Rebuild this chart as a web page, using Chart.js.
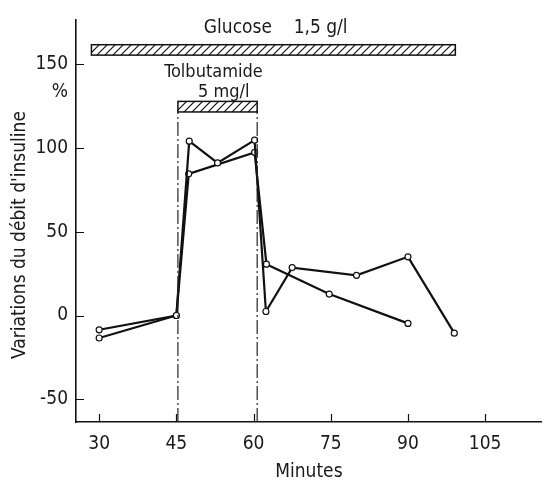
<!DOCTYPE html>
<html><head><meta charset="utf-8">
<script src="https://cdn.jsdelivr.net/npm/chart.js@4/dist/chart.umd.min.js"></script>
<style>html,body{margin:0;padding:0;background:#fff}#wrap{width:547px;height:480px}</style>
</head><body><div id="wrap"><canvas id="c" width="547" height="480"></canvas></div>
<script>
const minutesA = [30, 45, 47.5, 53, 60.2, 62.4, 67.5, 80, 90, 99];
const insulinA = [-8.5, 0, 104, 91, 104.6, 2.4, 28.6, 24, 35, -10.5];
const minutesB = [30, 45, 47.4, 60.2, 62.5, 74.7, 90];
const insulinB = [-13.4, 0, 84.5, 97.3, 30.6, 12.8, -4.7];
const xTicks = [30, 45, 60, 75, 90, 105];
const yTicks = [-50, 0, 50, 100, 150];
const xRange = [25.5, 116];
const yRange = [-63.5, 176.6];
const glucoseSpan = [28.5, 99.2];
const glucoseLevel = [155.3, 161.5];
const tolbSpan = [45.3, 60.7];
const tolbLevel = [121.4, 127.7];
const glucoseLabel = "Glucose    1,5 g/l";
const tolbLabel = ["Tolbutamide", "5 mg/l"];
const unitLabel = "%";
const yTitle = "Variations du débit d'insuline";
const xTitle = "Minutes";

const FONT = "'DejaVu Sans',sans-serif";
const STRETCH = 'condensed';
const toPts = (xs, ys) => xs.map((x, i) => ({x, y: ys[i]}));

function hatch(ctx) {
  const c = document.createElement('canvas');
  c.width = 8; c.height = 8;
  const g = c.getContext('2d');
  g.strokeStyle = '#111'; g.lineWidth = 1.2;
  g.beginPath();
  g.moveTo(-1, 9); g.lineTo(9, -1);
  g.moveTo(-1, 1); g.lineTo(1, -1);
  g.moveTo(7, 9); g.lineTo(9, 7);
  g.stroke();
  return ctx.createPattern(c, 'repeat');
}

const deco = {
  id: 'deco',
  afterDraw(chart) {
    const ctx = chart.ctx, xs = chart.scales.x, ys = chart.scales.y, ca = chart.chartArea;
    ctx.save();
    ctx.strokeStyle = '#111'; ctx.lineWidth = 1.2;
    ctx.beginPath();
    xTicks.forEach(v => { const p = Math.round(xs.getPixelForValue(v)) + 0.5; ctx.moveTo(p, ca.bottom); ctx.lineTo(p, ca.bottom - 8); });
    yTicks.forEach(v => { const p = Math.round(ys.getPixelForValue(v)) + 0.5; ctx.moveTo(ca.left, p); ctx.lineTo(ca.left + 8, p); });
    ctx.stroke();
    const pat = hatch(ctx);
    [[glucoseSpan, glucoseLevel], [tolbSpan, tolbLevel]].forEach(([sx, sy]) => {
      const x0 = xs.getPixelForValue(sx[0]), x1 = xs.getPixelForValue(sx[1]);
      const y0 = ys.getPixelForValue(sy[1]), y1 = ys.getPixelForValue(sy[0]);
      ctx.fillStyle = pat;
      ctx.fillRect(x0, y0, x1 - x0, y1 - y0);
      ctx.lineWidth = 1.5; ctx.strokeStyle = '#111';
      ctx.strokeRect(x0, y0, x1 - x0, y1 - y0);
    });
    ctx.fillStyle = '#1a1a1a';
    ctx.font = STRETCH + ' 19px ' + FONT;
    ctx.textAlign = 'center'; ctx.textBaseline = 'middle';
    ctx.fillText(glucoseLabel, xs.getPixelForValue(64.3), ys.getPixelForValue(171.7));
    ctx.font = STRETCH + ' 18px ' + FONT;
    ctx.fillText(tolbLabel[0], xs.getPixelForValue(52.2), ys.getPixelForValue(145));
    ctx.fillText(tolbLabel[1], xs.getPixelForValue(54.2), ys.getPixelForValue(133.2));
    ctx.font = STRETCH + ' 19px ' + FONT;
    ctx.textAlign = 'right';
    ctx.fillText(unitLabel, ca.left - 8, ys.getPixelForValue(133));
    // y-axis title
    ctx.translate(20, ys.getPixelForValue(48));
    ctx.rotate(-Math.PI / 2);
    ctx.textAlign = 'center';
    ctx.fillText(yTitle, 0, 0);
    ctx.restore();
  }
};

const line = (data) => ({
  data, showLine: true, borderColor: '#111', borderWidth: 2.2,
  pointRadius: 3, pointBackgroundColor: '#fff', pointBorderColor: '#111', pointBorderWidth: 1.2,
  tension: 0
});
const dash = (x) => ({
  data: [{x, y: yRange[0]}, {x, y: tolbLevel[0]}], showLine: true, borderColor: '#222',
  borderWidth: 1.2, borderDash: [14, 3, 2, 3], pointRadius: 0
});
const tf = { size: 19, family: FONT, weight: STRETCH };

new Chart(document.getElementById('c'), {
  type: 'scatter',
  data: { datasets: [dash(tolbSpan[0]), dash(tolbSpan[1]), line(toPts(minutesA, insulinA)), line(toPts(minutesB, insulinB))] },
  options: {
    responsive: false, animation: false,
    layout: { padding: { top: 17, right: 0, left: 0, bottom: 0 } },
    plugins: { legend: { display: false }, tooltip: { enabled: false } },
    scales: {
      x: {
        type: 'linear', min: xRange[0], max: xRange[1],
        afterBuildTicks: s => { s.ticks = xTicks.map(v => ({value: v})); },
        afterFit: s => { s.height = 58; },
        grid: { display: true, drawOnChartArea: false, drawTicks: false },
        border: { display: true, color: '#111', width: 1.6 },
        ticks: { color: '#1a1a1a', font: tf, padding: 11, maxRotation: 0 },
        title: { display: true, text: xTitle, color: '#1a1a1a', font: tf, padding: { top: 0, bottom: -3 } }
      },
      y: {
        type: 'linear', min: yRange[0], max: yRange[1],
        afterBuildTicks: s => { s.ticks = yTicks.map(v => ({value: v})); },
        afterFit: s => { s.width = 76; },
        grid: { display: true, drawOnChartArea: false, drawTicks: false },
        border: { display: true, color: '#111', width: 1.6 },
        ticks: { color: '#1a1a1a', font: tf, padding: 8 },
        title: { display: false }
      }
    }
  },
  plugins: [deco]
});
</script></body></html>
